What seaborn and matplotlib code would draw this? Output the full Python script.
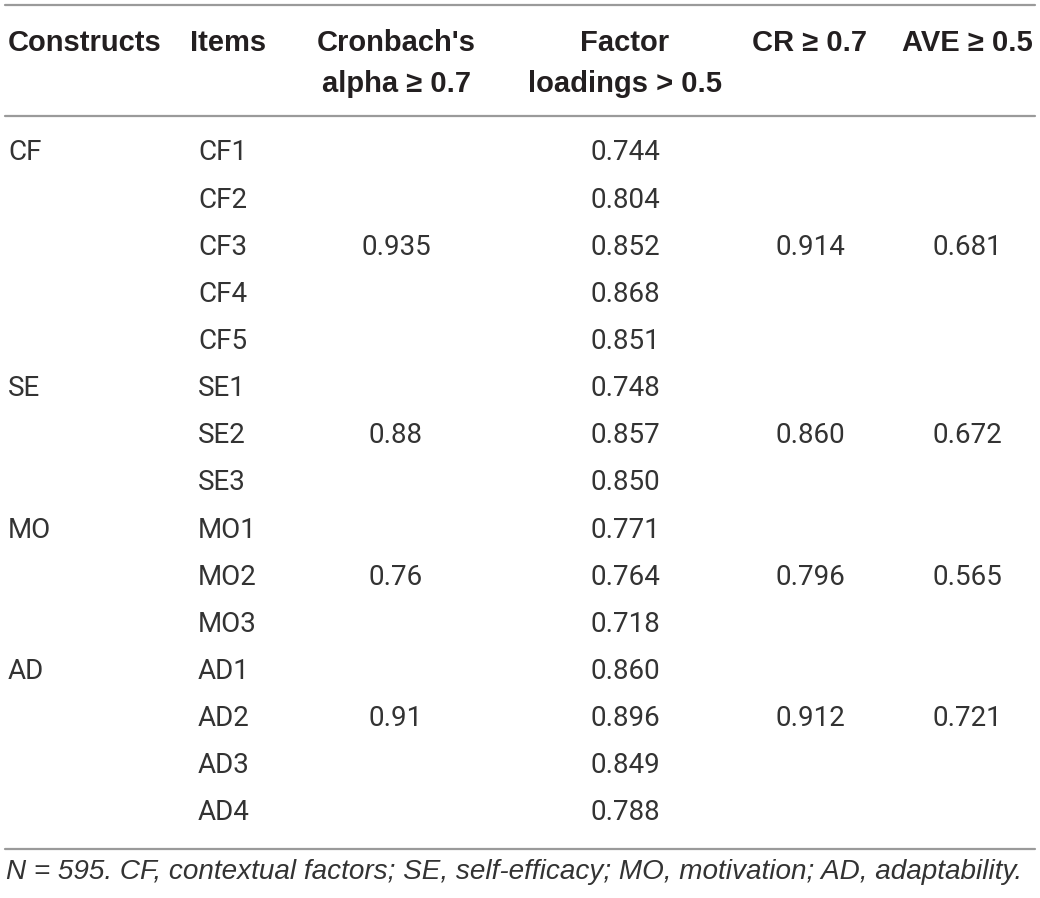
import matplotlib
matplotlib.use("Agg")
import matplotlib.pyplot as plt
import seaborn as sns

# table contents
headers = ["Constructs", "Items", "Cronbach's\nalpha ≥ 0.7", "Factor\nloadings > 0.5", "CR ≥ 0.7", "AVE ≥ 0.5"]
constructs = ["CF", "SE", "MO", "AD"]
items = [["CF1", "CF2", "CF3", "CF4", "CF5"],
         ["SE1", "SE2", "SE3"],
         ["MO1", "MO2", "MO3"],
         ["AD1", "AD2", "AD3", "AD4"]]
alpha = ["0.935", "0.88", "0.76", "0.91"]
loadings = [["0.744", "0.804", "0.852", "0.868", "0.851"],
            ["0.748", "0.857", "0.850"],
            ["0.771", "0.764", "0.718"],
            ["0.860", "0.896", "0.849", "0.788"]]
cr = ["0.914", "0.860", "0.796", "0.912"]
ave = ["0.681", "0.672", "0.565", "0.721"]
note = "N = 595. CF, contextual factors; SE, self-efficacy; MO, motivation; AD, adaptability."

sns.set_theme(style="white")
plt.rcParams["font.family"] = ["Liberation Sans", "DejaVu Sans"]

W, H = 1040, 898
fig = plt.figure(figsize=(W / 100, H / 100), dpi=100)
ax = fig.add_axes([0, 0, 1, 1])
ax.set_xlim(0, W)
ax.set_ylim(H, 0)
ax.axis("off")

rule = dict(color="#9a9a9a", lw=1.6)
ax.plot([5, 1035], [5, 5], **rule)
ax.plot([5, 1035], [116, 116], **rule)
ax.plot([5, 1035], [849, 849], **rule)

# header
hx = [(8, "left"), (190, "left"), (396, "center"), (625, "center"), (810, "center"), (967, "center")]
hkw = dict(fontsize=21, fontweight="bold", color="#231f20", va="center")
for (x, ha), h in zip(hx, headers):
    lines = h.split("\n")
    for k, ln in enumerate(lines):
        ax.text(x, 43 + 41 * k, ln, ha=ha, **hkw)

body_font = ["Roboto", "Liberation Sans", "DejaVu Sans"]
bkw = dict(fontsize=20, color="#333333", va="center", fontweight="normal", family=body_font)
y0, dy = 153, 47.14
row = 0
for g, c in enumerate(constructs):
    n = len(items[g])
    ax.text(8, y0 + dy * row, c, ha="left", **bkw)
    mid = y0 + dy * (row + (n - 1) // 2)
    ax.text(396, mid, alpha[g], ha="center", **bkw)
    ax.text(810, mid, cr[g], ha="center", **bkw)
    ax.text(967, mid, ave[g], ha="center", **bkw)
    for i in range(n):
        y = y0 + dy * (row + i)
        ax.text(198, y, items[g][i], ha="left", **bkw)
        ax.text(625, y, loadings[g][i], ha="center", **bkw)
    row += n

ax.text(6, 872, note, ha="left", va="center", fontsize=20.1, style="italic",
        color="#333333")

fig.savefig("out.png", dpi=100)
